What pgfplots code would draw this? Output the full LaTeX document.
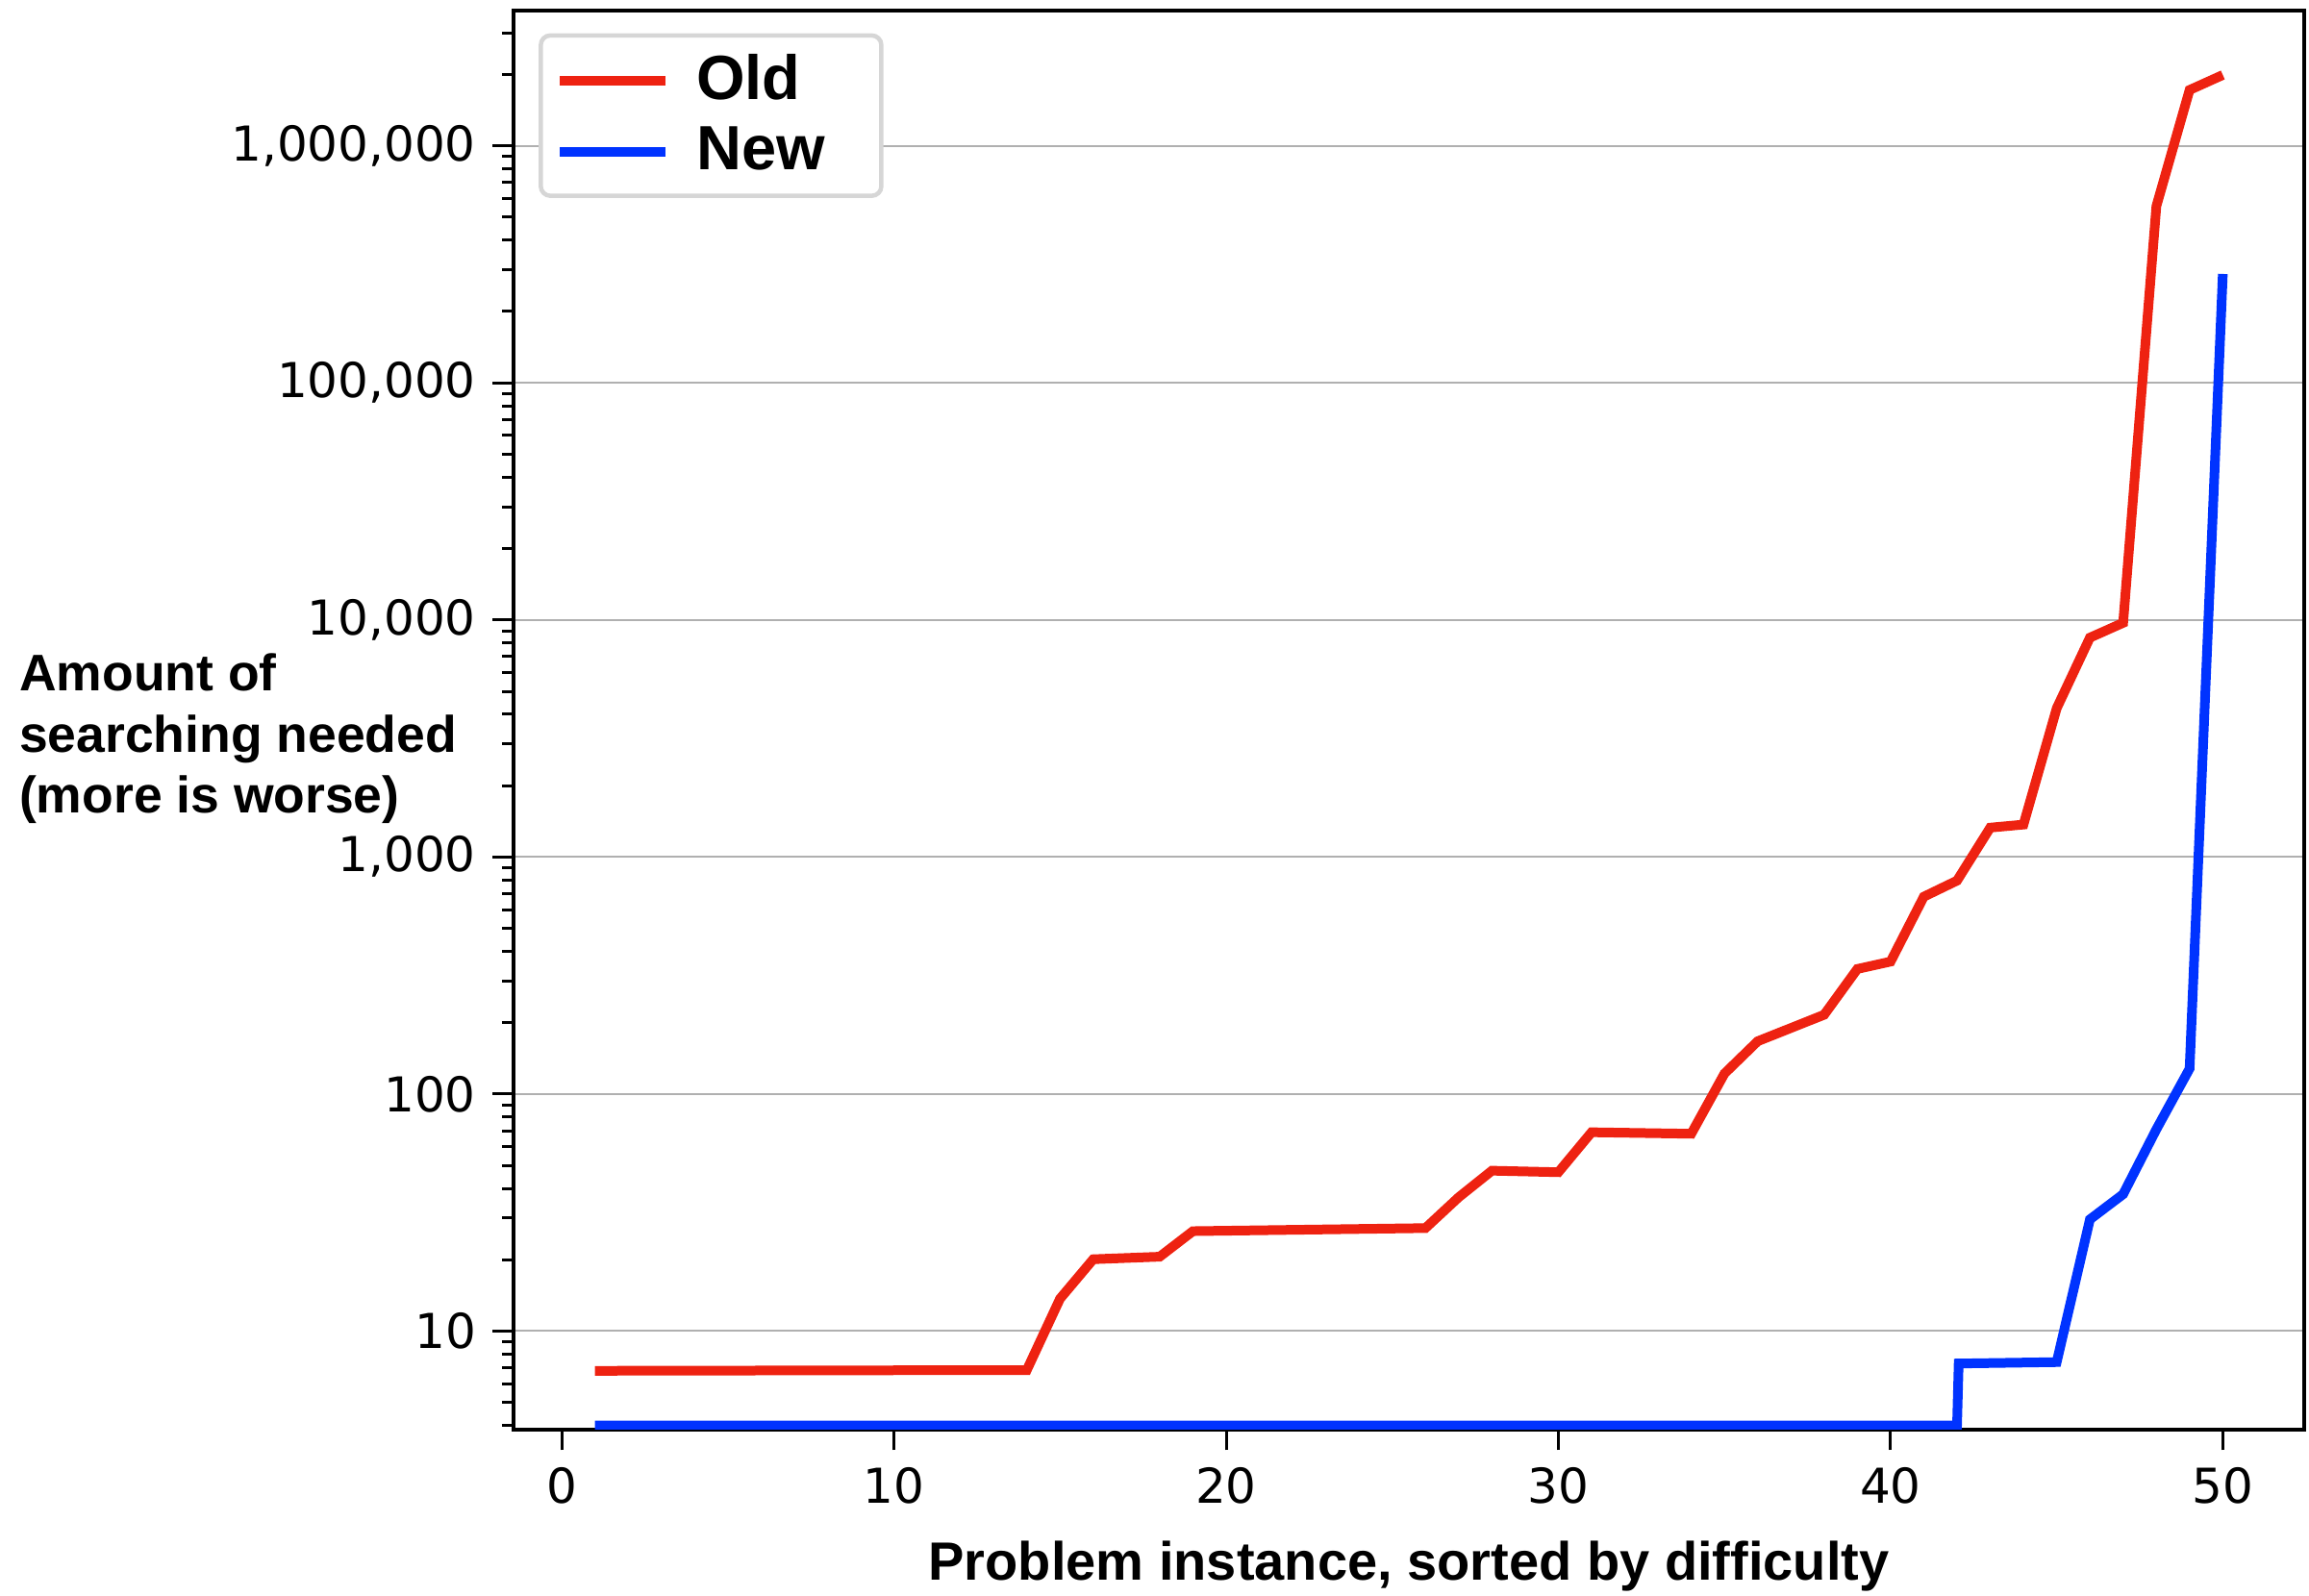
\documentclass[border=0pt]{standalone}
\usepackage{pgfplots}
\pgfplotsset{compat=1.18}
\usepackage{fontspec}
\setmainfont{Liberation Sans}
\newfontfamily\dejavu{DejaVu Sans}
\definecolor{oldred}{RGB}{238,34,17}
\definecolor{newblue}{RGB}{0,51,255}
\definecolor{gridgray}{RGB}{176,176,176}
\definecolor{leggray}{RGB}{214,214,214}
\begin{document}
\begin{tikzpicture}
\useasboundingbox (-106.8pt,-34.6pt) rectangle (373.4pt,297.4pt);
\begin{axis}[
  scale only axis,
  width=372.4pt, height=295.2pt,
  ymode=log,
  xmin=-1.45, xmax=52.45,
  ymin=3.84, ymax=3.72e6,
  xtick={0,10,20,30,40,50},
  xticklabels={0,10,20,30,40,50},
  ytick={10,100,1000,10000,100000,1000000},
  yticklabels={10,{100},{1,000},{10,000},{100,000},{1,000,000}},
  minor ytick={4,5,6,7,8,9,20,30,40,50,60,70,80,90,200,300,400,500,600,700,800,900,2000,3000,4000,5000,6000,7000,8000,9000,20000,30000,40000,50000,60000,70000,80000,90000,200000,300000,400000,500000,600000,700000,800000,900000,2000000,3000000},
  tick align=outside,
  xtick pos=bottom, ytick pos=left,
  major tick length=4.3pt, minor tick length=2.4pt,
  every tick/.style={black, line width=0.6pt},
  tick label style={font=\dejavu\fontsize{10}{12}\selectfont},
  ymajorgrids,
  major grid style={gridgray, line width=0.4pt},
  axis line style={black, line width=0.8pt},
  xlabel={Problem instance, sorted by difficulty},
  xlabel style={font=\bfseries\fontsize{11.2}{13}\selectfont, yshift=-1pt},
  ylabel={Amount of\\searching needed\\(more is worse)},
  ylabel style={font=\bfseries\fontsize{10.7}{12.7}\selectfont, align=left, rotate=-90, anchor=west, inner sep=0pt, at={(rel axis cs:-0.2765,0.487)}},
  legend style={at={(0.014,0.984)}, anchor=north west, draw=leggray, line width=0.9pt, rounded corners=2pt,
    font=\bfseries\fontsize{13}{15}\selectfont, inner xsep=3pt, inner ysep=2pt,
    row sep=0pt},
  legend cell align=left,
  legend image code/.code={\draw[line width=2pt] (0pt,0pt) -- (22pt,0pt); \path (25.4pt,0pt);},
]
\addplot[oldred, line width=2pt] coordinates {
(1,6.8) (14,6.85) (15,13.7) (16,20.1) (18,20.6) (19,26.4) (26,27.2) (27,36.7) (28,47.5) (30,46.8)
(31,69) (34,68) (35,122) (36,167) (38,216) (39,337) (40,362) (41,680) (42,795) (43,1330) (44,1370)
(45,4240) (46,8420) (47,9720) (48,556000) (49,1720000) (50,1990000)
};
\addlegendentry{Old}
\addplot[newblue, line width=2pt] coordinates {
(1,4) (42,4) (42.05,7.3) (45,7.4) (46,29.6) (47,37.8) (48,71) (49,128) (50,288000)
};
\addlegendentry{New\kern6.7pt\null}
\end{axis}
\end{tikzpicture}
\end{document}
